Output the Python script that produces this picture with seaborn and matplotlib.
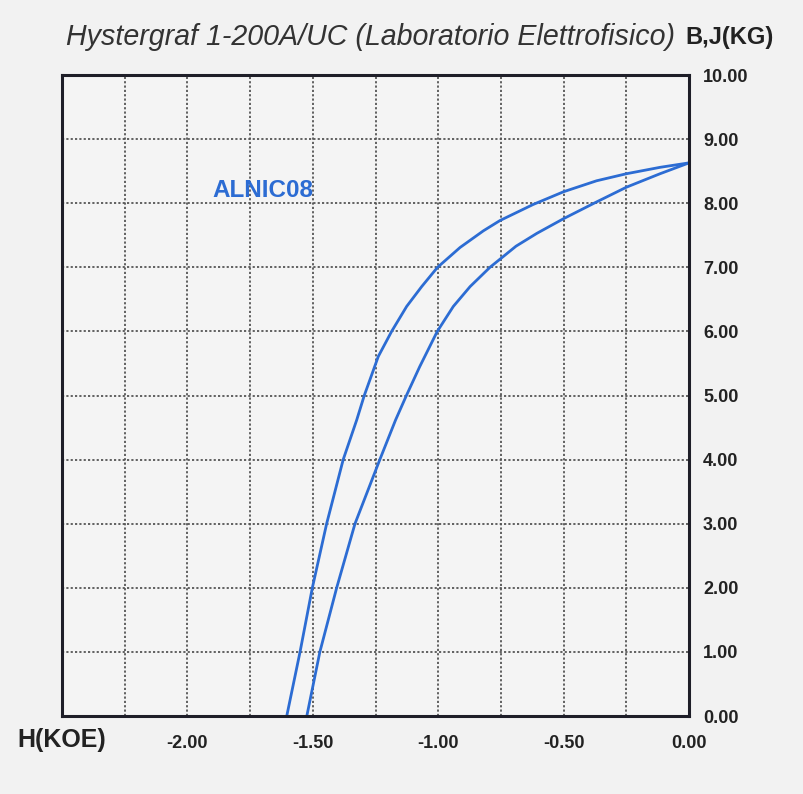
import pandas as pd
import seaborn as sns
import matplotlib.pyplot as plt
import numpy as np

# Outer (upper) branch of the loop, H in kOe, B in kG
upper_h = [-1.604, -1.551, -1.502, -1.445, -1.379, -1.325, -1.295, -1.239, -1.186,
           -1.126, -1.066, -1.003, -0.913, -0.820, -0.754, -0.622, -0.500, -0.369,
           -0.250, -0.116, 0.000]
upper_b = [0.00, 1.00, 2.00, 3.00, 4.00, 4.62, 5.00, 5.61, 6.00,
           6.39, 6.70, 7.00, 7.31, 7.57, 7.73, 7.98, 8.18, 8.35,
           8.46, 8.56, 8.63]

# Inner (lower) branch
lower_h = [-1.524, -1.472, -1.405, -1.332, -1.233, -1.170, -1.127, -1.074, -1.004,
           -0.940, -0.873, -0.794, -0.690, -0.607, -0.500, -0.369, -0.250, -0.116, 0.000]
lower_b = [0.00, 1.00, 2.00, 3.00, 4.00, 4.62, 5.00, 5.45, 6.00,
           6.39, 6.70, 7.00, 7.33, 7.53, 7.76, 8.02, 8.25, 8.46, 8.63]

x_ticks = [-2.00, -1.50, -1.00, -0.50, 0.00]
y_ticks = [0, 1, 2, 3, 4, 5, 6, 7, 8, 9, 10]

bg = '#f2f2f2'
blue = '#2c6cd3'

sns.set_theme(style='white')
plt.rcParams['font.family'] = ['Liberation Sans', 'DejaVu Sans']

df = pd.concat([
    pd.DataFrame({'H': upper_h, 'B': upper_b, 'branch': 'upper'}),
    pd.DataFrame({'H': lower_h, 'B': lower_b, 'branch': 'lower'}),
])

fig = plt.figure(figsize=(8.04, 7.94), dpi=100, facecolor=bg)
ax = fig.add_axes([0.0771, 0.0982, 0.780, 0.8073])
ax.set_facecolor('#f4f4f4')

sns.lineplot(data=df, x='H', y='B', units='branch', estimator=None, sort=False,
             color=blue, linewidth=2.0, ax=ax)
for ln in ax.lines:
    ln.set_solid_joinstyle('round')

ax.set_xlim(-2.5, 0.0)
ax.set_ylim(0, 10)

# grid: every 0.25 on H, every 1 on B
ax.set_xticks(x_ticks)
ax.set_xticks(np.arange(-2.25, 0, 0.5), minor=True)
ax.set_xticklabels([f'{v:.2f}' for v in x_ticks], fontweight='bold', fontsize=13, color='#222222')
ax.set_yticks(y_ticks)
ax.set_yticklabels([f'{v:.2f}' for v in y_ticks], fontweight='bold', fontsize=13, color='#222222')
ax.yaxis.tick_right()
ax.tick_params(axis='both', which='both', length=0)
ax.tick_params(axis='x', pad=14)
ax.tick_params(axis='y', pad=10)
ax.grid(True, which='both', axis='x', linestyle=(0, (1.2, 1.2)), color='#555555', linewidth=1.3)
ax.grid(True, which='major', axis='y', linestyle=(0, (1.2, 1.2)), color='#555555', linewidth=1.3)
ax.set_xlabel('')
ax.set_ylabel('')

for s in ax.spines.values():
    s.set_color('#1e1e28')
    s.set_linewidth(2.2)

ax.text(-1.90, 8.2, 'ALNIC08', color=blue, fontweight='bold', fontsize=17.5,
        ha='left', va='center')

fig.text(0.082, 0.954, 'Hystergraf 1-200A/UC (Laboratorio Elettrofisico)',
         fontstyle='italic', fontsize=20.6, color='#333333', ha='left', va='center')
fig.text(0.852, 0.953, 'B,J(KG)', fontweight='bold', fontsize=17, color='#222222',
         ha='left', va='center')
fig.text(0.022, 0.068, 'H(KOE)', fontweight='bold', fontsize=18, color='#222222',
         ha='left', va='center')

fig.savefig('out.png', dpi=100, facecolor=bg)
